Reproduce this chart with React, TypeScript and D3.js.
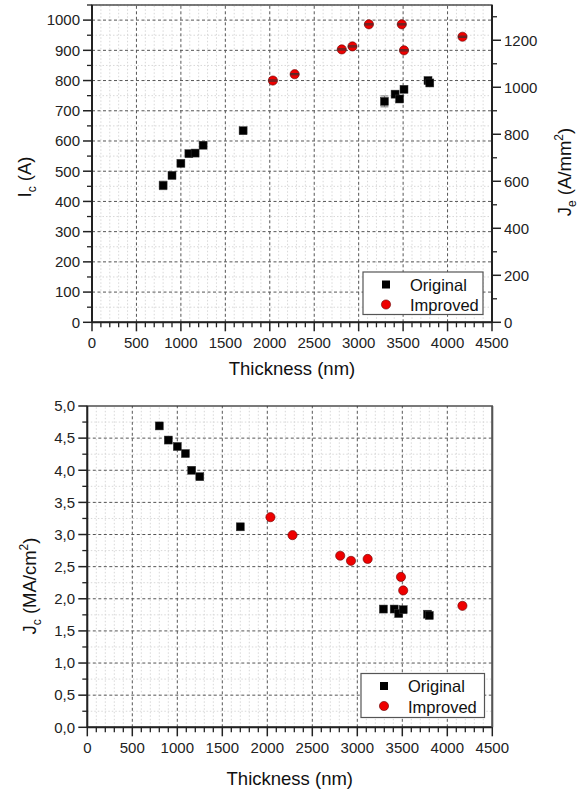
import React from "react";
import * as d3 from "d3";

// thickness (nm) of the samples
const origThickness = [800, 900, 1000, 1090, 1160, 1250, 1700, 3290, 3410, 3460, 3510, 3780, 3800];
const impThickness = [2035, 2280, 2810, 2930, 3115, 3485, 3510, 4168];

// critical current Ic (A)
const origIc = [453, 486, 526, 558, 560, 586, 634, 731, 755, 739, 771, 800, 792];
const origIcErr = [14, 5, 5, 5, 5, 5, 6, 18, 8, 8, 6, 10, 6];
const impIc = [800, 821, 903, 913, 986, 986, 900, 945];
const impIcErr = [2, 2, 2, 2, 2, 2, 2, 2];

// critical current density Jc (MA/cm2)
const origJc = [4.69, 4.47, 4.37, 4.26, 4.0, 3.9, 3.12, 1.84, 1.84, 1.77, 1.83, 1.76, 1.74];
const impJc = [3.27, 2.99, 2.67, 2.59, 2.62, 2.34, 2.13, 1.89];

const xTicks = [0, 500, 1000, 1500, 2000, 2500, 3000, 3500, 4000, 4500];
const icTicks = [0, 100, 200, 300, 400, 500, 600, 700, 800, 900, 1000];
const jeTicks = [0, 200, 400, 600, 800, 1000, 1200];
const jcTicks = [0, 0.5, 1, 1.5, 2, 2.5, 3, 3.5, 4, 4.5, 5];
const legendLabels = ["Original", "Improved"];

const FONT = "Liberation Sans, Arial, sans-serif";
const RED = "#ee0000";

function Grid({ x, y, xMinor, yMinor, xMajor, yMajor }: any) {
  const [x0, x1] = x.range();
  const [y0, y1] = y.range();
  return (
    <g>
      {xMinor.map((v: number) => (
        <line key={"xm" + v} x1={x(v)} x2={x(v)} y1={y0} y2={y1} stroke="#d8d8d8" strokeWidth={1} strokeDasharray="1.5,2" />
      ))}
      {yMinor.map((v: number) => (
        <line key={"ym" + v} x1={x0} x2={x1} y1={y(v)} y2={y(v)} stroke="#d8d8d8" strokeWidth={1} strokeDasharray="1.5,2" />
      ))}
      {xMajor.map((v: number) => (
        <line key={"xM" + v} x1={x(v)} x2={x(v)} y1={y0} y2={y1} stroke="#555" strokeWidth={1} strokeDasharray="3,2.5" />
      ))}
      {yMajor.map((v: number) => (
        <line key={"yM" + v} x1={x0} x2={x1} y1={y(v)} y2={y(v)} stroke="#555" strokeWidth={1} strokeDasharray="3,2.5" />
      ))}
    </g>
  );
}

function XAxis({ x, yPos, labelY, titleY }: any) {
  const minor = d3.range(0, 4501, 100).filter((v) => v % 500 !== 0);
  return (
    <g>
      {minor.map((v) => (
        <line key={"m" + v} x1={x(v)} x2={x(v)} y1={yPos} y2={yPos + 5} stroke="#222" strokeWidth={1.3} />
      ))}
      {xTicks.map((v) => (
        <g key={v}>
          <line x1={x(v)} x2={x(v)} y1={yPos} y2={yPos + 9} stroke="#222" strokeWidth={1.5} />
          <text x={x(v)} y={labelY} textAnchor="middle" fontSize={15} fill="#222">{v}</text>
        </g>
      ))}
      <text x={(x.range()[0] + x.range()[1]) / 2} y={titleY} textAnchor="middle" fontSize={18.5} fill="#111">Thickness (nm)</text>
    </g>
  );
}

function Legend({ x0, y0, w, h }: any) {
  return (
    <g>
      <rect x={x0} y={y0} width={w} height={h} fill="white" stroke="#555" strokeWidth={1.2} />
      <rect x={x0 + 19} y={y0 + 8.5} width={8} height={8} fill="#000" />
      <circle cx={x0 + 23} cy={y0 + 32.5} r={4.6} fill={RED} stroke="#600" strokeWidth={0.6} />
      <text x={x0 + 47} y={y0 + 18.5} fontSize={16.5} fill="#111">{legendLabels[0]}</text>
      <text x={x0 + 47} y={y0 + 39} fontSize={16.5} fill="#111">{legendLabels[1]}</text>
    </g>
  );
}

function TopPanel() {
  const x = d3.scaleLinear().domain([0, 4500]).range([92, 492]);
  const y = d3.scaleLinear().domain([0, 1050]).range([322.3, 5]);
  const yr = d3.scaleLinear().domain([0, 1350]).range([322.3, 5]);
  const xMinor = d3.range(0, 4501, 100).filter((v) => v % 500 !== 0);
  const yMinor = d3.range(50, 1051, 100);
  const xMajor = xTicks.slice(1, -1);
  const yMajor = icTicks.slice(1);
  const [L, R] = x.range();
  const [B, T] = y.range();
  return (
    <g>
      <Grid x={x} y={y} xMinor={xMinor} yMinor={yMinor} xMajor={xMajor} yMajor={yMajor} />
      {/* error bars */}
      {origThickness.map((t, i) => (
        <g key={"oe" + i} stroke="#777" strokeWidth={1}>
          <line x1={x(t)} x2={x(t)} y1={y(origIc[i] - origIcErr[i])} y2={y(origIc[i] + origIcErr[i])} />
          <line x1={x(t) - 4} x2={x(t) + 4} y1={y(origIc[i] - origIcErr[i])} y2={y(origIc[i] - origIcErr[i])} />
          <line x1={x(t) - 4} x2={x(t) + 4} y1={y(origIc[i] + origIcErr[i])} y2={y(origIc[i] + origIcErr[i])} />
        </g>
      ))}
      {origThickness.map((t, i) => (
        <rect key={"o" + i} x={x(t) - 4} y={y(origIc[i]) - 4} width={8} height={8} fill="#000" stroke="#333" strokeWidth={0.5} />
      ))}
      {impThickness.map((t, i) => (
        <circle key={"c" + i} cx={x(t)} cy={y(impIc[i])} r={4.6} fill={RED} stroke="#600" strokeWidth={0.6} />
      ))}
      {impThickness.map((t, i) => (
        <g key={"ie" + i} stroke="#333" strokeWidth={0.9}>
          <line x1={x(t) - 4.5} x2={x(t) + 4.5} y1={y(impIc[i] - impIcErr[i])} y2={y(impIc[i] - impIcErr[i])} />
          <line x1={x(t) - 4.5} x2={x(t) + 4.5} y1={y(impIc[i] + impIcErr[i])} y2={y(impIc[i] + impIcErr[i])} />
        </g>
      ))}
      <Legend x0={363} y0={272} w={120} h={42.5} />
      {/* frame */}
      <rect x={L} y={T} width={R - L} height={B - T} fill="none" stroke="#333" strokeWidth={1.3} />
      <line x1={L} x2={L} y1={T} y2={B} stroke="#222" strokeWidth={2} />
      <line x1={L} x2={R} y1={B} y2={B} stroke="#222" strokeWidth={2} />
      <line x1={R} x2={R} y1={T} y2={B} stroke="#222" strokeWidth={2} />
      {/* left axis */}
      {d3.range(50, 1051, 100).map((v) => (
        <line key={"lm" + v} x1={L - 5} x2={L} y1={y(v)} y2={y(v)} stroke="#222" strokeWidth={1.3} />
      ))}
      {icTicks.map((v) => (
        <g key={"l" + v}>
          <line x1={L - 9} x2={L} y1={y(v)} y2={y(v)} stroke="#222" strokeWidth={1.5} />
          <text x={80} y={y(v) + 5.3} textAnchor="end" fontSize={15} fill="#222">{v}</text>
        </g>
      ))}
      {/* right axis */}
      {d3.range(100, 1351, 200).map((v) => (
        <line key={"rm" + v} x1={R} x2={R + 5} y1={yr(v)} y2={yr(v)} stroke="#222" strokeWidth={1.3} />
      ))}
      {jeTicks.map((v) => (
        <g key={"r" + v}>
          <line x1={R} x2={R + 9} y1={yr(v)} y2={yr(v)} stroke="#222" strokeWidth={1.5} />
          <text x={504} y={yr(v) + 5.3} textAnchor="start" fontSize={15} fill="#222">{v}</text>
        </g>
      ))}
      <XAxis x={x} yPos={B} labelY={347.5} titleY={375} />
      <text transform="translate(31,177) rotate(-90)" textAnchor="middle" fontSize={18.5} fill="#111">
        I<tspan fontSize={12} dy={5}>c</tspan><tspan dy={-5}> (A)</tspan>
      </text>
      <text transform="translate(571,172) rotate(-90)" textAnchor="middle" fontSize={18.5} fill="#111">
        J<tspan fontSize={12} dy={5}>e</tspan><tspan dy={-5}> (A/mm</tspan><tspan fontSize={12} dy={-8}>2</tspan><tspan dy={8}>)</tspan>
      </text>
    </g>
  );
}

function BottomPanel() {
  const x = d3.scaleLinear().domain([0, 4500]).range([87.3, 492.3]);
  const y = d3.scaleLinear().domain([0, 5]).range([727.3, 406]);
  const xMinor = d3.range(0, 4501, 100).filter((v) => v % 500 !== 0);
  const yMinor = d3.range(0.25, 5, 0.5);
  const xMajor = xTicks.slice(1, -1);
  const yMajor = jcTicks.slice(1, -1);
  const [L, R] = x.range();
  const [B, T] = y.range();
  const fmt = (v: number) => d3.format(".1f")(v).replace(".", ",");
  return (
    <g>
      <Grid x={x} y={y} xMinor={xMinor} yMinor={yMinor} xMajor={xMajor} yMajor={yMajor} />
      {origThickness.map((t, i) => (
        <rect key={"o" + i} x={x(t) - 4} y={y(origJc[i]) - 4} width={8} height={8} fill="#000" stroke="#333" strokeWidth={0.5} />
      ))}
      {impThickness.map((t, i) => (
        <circle key={"c" + i} cx={x(t)} cy={y(impJc[i])} r={4.6} fill={RED} stroke="#600" strokeWidth={0.6} />
      ))}
      <Legend x0={361} y0={673.5} w={123.5} h={44} />
      <rect x={L} y={T} width={R - L} height={B - T} fill="none" stroke="#333" strokeWidth={1.3} />
      <line x1={L} x2={L} y1={T} y2={B} stroke="#222" strokeWidth={2} />
      <line x1={L} x2={R} y1={B} y2={B} stroke="#222" strokeWidth={2} />
      <line x1={R} x2={R} y1={T} y2={B} stroke="#555" strokeWidth={2} />
      {d3.range(0.25, 5, 0.5).map((v) => (
        <line key={"lm" + v} x1={L - 5} x2={L} y1={y(v)} y2={y(v)} stroke="#222" strokeWidth={1.3} />
      ))}
      {jcTicks.map((v) => (
        <g key={"l" + v}>
          <line x1={L - 9} x2={L} y1={y(v)} y2={y(v)} stroke="#222" strokeWidth={1.5} />
          <text x={75} y={y(v) + 5.3} textAnchor="end" fontSize={15} fill="#222">{fmt(v)}</text>
        </g>
      ))}
      <XAxis x={x} yPos={B} labelY={753} titleY={784.5} />
      <text transform="translate(36,586) rotate(-90)" textAnchor="middle" fontSize={18.5} fill="#111">
        J<tspan fontSize={12} dy={5}>c</tspan><tspan dy={-5}> (MA/cm</tspan><tspan fontSize={12} dy={-8}>2</tspan><tspan dy={8}>)</tspan>
      </text>
    </g>
  );
}

export default function App() {
  return (
    <svg
      width={578}
      height={792}
      style={{ position: "absolute", left: 0, top: 0, background: "white", fontFamily: FONT }}
    >
      <rect width={578} height={792} fill="white" />
      <TopPanel />
      <BottomPanel />
    </svg>
  );
}
